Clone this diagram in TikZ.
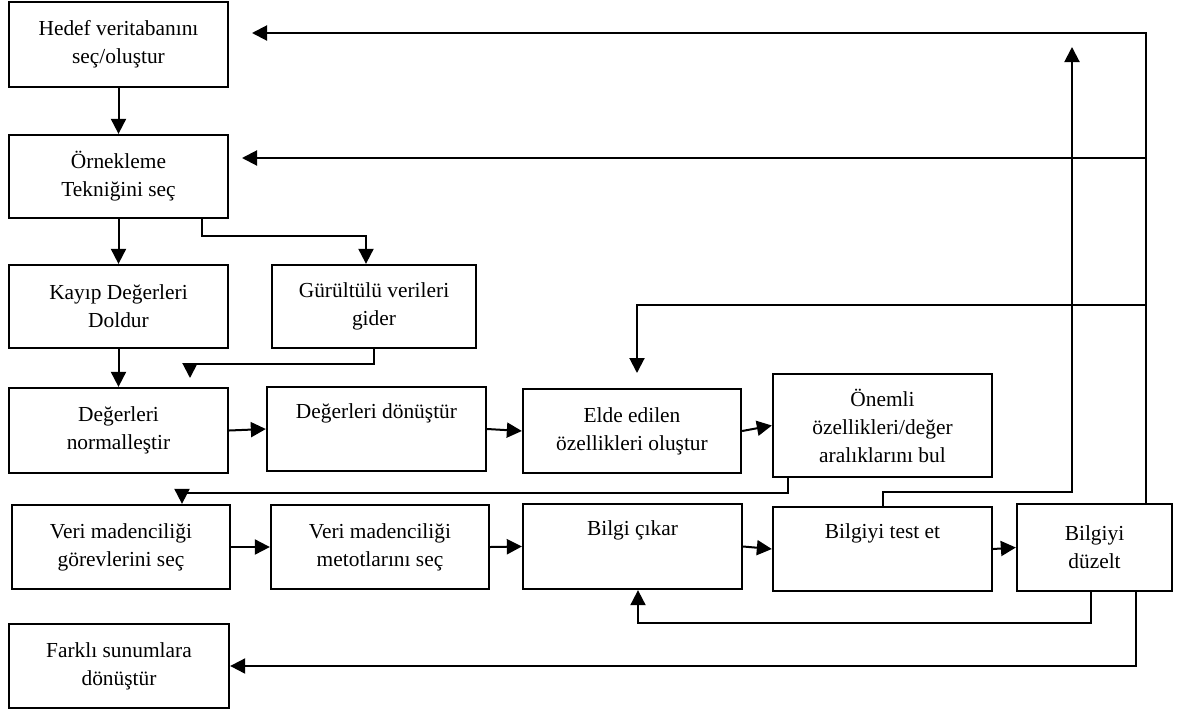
\documentclass[tikz,border=0pt]{standalone}
\usepackage{fontspec}
\setmainfont{Liberation Serif}
\usetikzlibrary{arrows.meta}
\begin{document}
\begin{tikzpicture}[x=0.5pt,y=-0.5pt,
  box/.style={draw, line width=1.15pt, inner sep=0pt, align=center,
    font=\fontsize{10.7}{14}\selectfont},
  link/.style={line width=1pt},
  arr/.style={link, -{Triangle[length=7.5pt,width=7.5pt]}}]
\useasboundingbox (0,0) rectangle (1194,713);

% process steps
\node[box, minimum width=109.5pt, minimum height=42.5pt] (hedef)  at (118.5,44.5)  {Hedef veritabanını\\seç/oluştur};
\node[box, minimum width=109.5pt, minimum height=41.5pt] (ornek)  at (118.5,176.5) {Örnekleme\\Tekniğini seç};
\node[box, minimum width=109.5pt, minimum height=41.5pt] (kayip)  at (118.5,306.5) {Kayıp Değerleri\\Doldur};
\node[box, minimum width=102pt,   minimum height=41.5pt] (gurul)  at (374,306.5)   {Gürültülü verileri\\gider};
\node[box, minimum width=109.5pt, minimum height=42.5pt] (norm)   at (118.5,430.5) {Değerleri\\normalleştir};
\node[box, minimum width=109.5pt, minimum height=42pt]   (donus)  at (376.5,429)   {Değerleri dönüştür\\\strut};
\node[box, minimum width=109pt,   minimum height=42pt]   (elde)   at (632,431)     {Elde edilen\\özellikleri oluştur};
\node[box, minimum width=109.5pt, minimum height=51.5pt] (onemli) at (882.5,425.5) {Önemli\\özellikleri/değer\\aralıklarını bul};
\node[box, minimum width=109pt,   minimum height=42pt]   (veri1)  at (121,547)     {Veri madenciliği\\görevlerini seç};
\node[box, minimum width=109pt,   minimum height=42pt]   (veri2)  at (380,547)     {Veri madenciliği\\metotlarını seç};
\node[box, minimum width=109.5pt, minimum height=42.5pt] (bilgi)  at (632.5,546.5) {Bilgi çıkar\\\strut};
\node[box, minimum width=109.5pt, minimum height=42pt]   (test)   at (882.5,549)   {Bilgiyi test et\\\strut};
\node[box, minimum width=77.5pt,  minimum height=43.5pt] (duzelt) at (1094.5,547.5){Bilgiyi\\düzelt};
\node[box, minimum width=110pt,   minimum height=42pt]   (farkli) at (119,666)     {Farklı sunumlara\\dönüştür};

% routing points
\coordinate (s1) at (202,236);
\coordinate (s2) at (366,236);
\coordinate (g1) at (190,364);
\coordinate (g2) at (190,378);
\coordinate (o1) at (788,493);
\coordinate (o2) at (182,493);
\coordinate (t0) at (1072,492);
\coordinate (t1) at (1072,47);
\coordinate (r1) at (1146,33);
\coordinate (h1) at (252,33);
\coordinate (h2) at (242,158);
\coordinate (e1) at (637,305);
\coordinate (e2) at (637,373);
\coordinate (d1) at (1091,623);
\coordinate (d2) at (638,623);
\coordinate (d3) at (1136,623);

% main flow
\draw[arr] (hedef) -- (ornek);
\draw[arr] (ornek) -- (kayip);
\draw[arr] (ornek.south -| s1) -- (s1) -- (s2) -- (s2 |- gurul.north);
\draw[arr] (kayip) -- (norm);
\draw[arr] (gurul.south) |- (g1) -- (g2);
\draw[arr] (norm.east) -- (donus.west);
\draw[arr] (donus.east) -- (elde.west);
\draw[arr] (elde.east) -- (onemli.west);
\draw[arr] (onemli.south -| o1) -- (o1) -- (o2) -- (o2 |- veri1.north);
\draw[arr] (veri1.east) -- (veri2.west);
\draw[arr] (veri2.east) -- (bilgi.west);
\draw[arr] (bilgi.east) -- (test.west);
\draw[arr] (test.east) -- (duzelt.west);

% feedback loops
\draw[arr] (test.north) |- (t0) -- (t1);
\draw[arr] (duzelt.north -| r1) -- (r1) -- (h1);
\draw[arr] (r1 |- h2) -- (h2);
\draw[arr] (r1 |- e1) -- (e1) -- (e2);
\draw[arr] (duzelt.south -| d1) -- (d1) -- (d2) -- (d2 |- bilgi.south);
\draw[arr] (duzelt.south -| d3) |- (farkli.east);
\end{tikzpicture}
\end{document}
